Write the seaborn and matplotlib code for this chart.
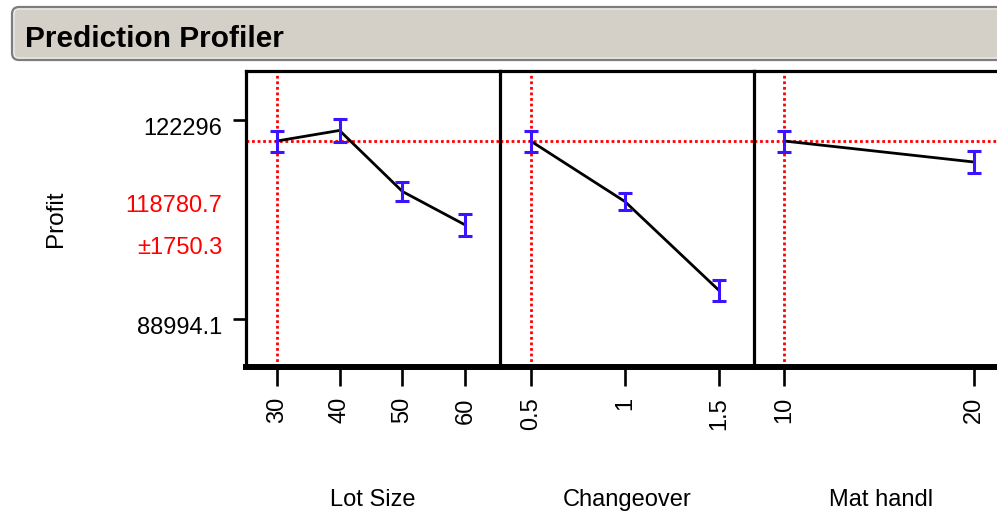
import matplotlib
matplotlib.use("Agg")
import matplotlib.pyplot as plt
import numpy as np
import pandas as pd
import seaborn as sns
from matplotlib import font_manager
from matplotlib.patches import FancyBboxPatch
from matplotlib.transforms import ScaledTranslation

# ---------------- data ----------------
factor_names = ["Lot Size", "Changeover", "Mat handl"]
lot_size_levels = [30, 40, 50, 60]
lot_size_profit = [118780.7, 120550, 110350, 104750]
lot_size_err = [1750.3, 1950, 1590, 1790]
changeover_levels = [0.5, 1, 1.5]
changeover_profit = [118780.7, 108660, 93770]
changeover_err = [1750.3, 1370, 1790]
mat_handl_levels = [10, 20]
mat_handl_profit = [118780.7, 115280]
mat_handl_err = [1750.3, 1805]
current_settings = [30, 0.5, 10]
predicted_profit = 118780.7
predicted_ci = 1750.3
y_ticks = [88994.1, 122296]
y_tick_labels = ["88994.1", "122296"]
x_tick_labels = [["30", "40", "50", "60"], ["0.5", "1", "1.5"], ["10", "20"]]
title_text = "Prediction Profiler"
response_name = "Profit"

levels = [lot_size_levels, changeover_levels, mat_handl_levels]
profits = [lot_size_profit, changeover_profit, mat_handl_profit]
errs = [lot_size_err, changeover_err, mat_handl_err]

frames = []
for name, lv, pr, er in zip(factor_names, levels, profits, errs):
    frames.append(pd.DataFrame({"factor": name, "level": lv, "profit": pr, "err": er}))
df = pd.concat(frames, ignore_index=True)

# ---------------- style ----------------
sns.set_style("ticks")
plt.rcParams["font.family"] = ["Liberation Sans", "DejaVu Sans"]
for k in ["text.color", "axes.labelcolor", "xtick.color", "ytick.color",
          "axes.edgecolor"]:
    plt.rcParams[k] = "black"

installed = {f.name for f in font_manager.fontManager.ttflist}
if "Liberation Sans Narrow" in installed:
    body_family = ["Liberation Sans Narrow", "Liberation Sans", "DejaVu Sans"]
    body_size = 20.5
else:
    body_family = ["Liberation Sans", "DejaVu Sans"]
    body_size = 17

W, H = 997, 512
fig = plt.figure(figsize=(W / 100, H / 100), dpi=100)

def fx(px):
    return px / W

def fy(py):
    return (H - py) / H

# title bar
bar = FancyBboxPatch((0.12, (H - 60) / 100), 10.0, 0.53,
                     boxstyle="round,pad=0,rounding_size=0.07",
                     transform=fig.dpi_scale_trans, facecolor="#d4d0c8",
                     edgecolor="#7d7d7d", linewidth=1.6, zorder=0)
fig.add_artist(bar)
inner = FancyBboxPatch((0.14, (H - 58) / 100), 9.96, 0.49,
                       boxstyle="round,pad=0,rounding_size=0.05",
                       transform=fig.dpi_scale_trans, facecolor="none",
                       edgecolor="#f2f2f2", linewidth=0.8, zorder=0)
fig.add_artist(inner)
fig.text(fx(25), fy(46.7), title_text, fontsize=21.5, fontweight="bold",
         ha="left", va="baseline", color="black",
         family=["Liberation Sans", "DejaVu Sans"])

# panel geometry (pixels)
top_px, bottom_px = 70.7, 367.0
panel_px = [(246.0, 499.5), (499.5, 754.0), (754.0, 1008.0)]
xlims = [(25.12, 65.44), (0.3346, 1.684), (8.40, 21.81)]
ylim = (81020, 130535)

ax_h = (bottom_px - top_px) / H
for i, (name, (l, r)) in enumerate(zip(factor_names, panel_px)):
    ax = fig.add_axes([fx(l), fy(bottom_px), (r - l) / W, ax_h])
    sub = df[df["factor"] == name]
    # reference lines
    ax.axvline(current_settings[i], color="red", linestyle=(0, (1, 1)), lw=2.0, zorder=1)
    ax.axhline(predicted_profit, color="red", linestyle=(0, (1, 1)), lw=2.0, zorder=1)
    sns.lineplot(data=sub, x="level", y="profit", color="black", lw=2.0,
                 errorbar=None, legend=False, ax=ax, zorder=3)
    ax.errorbar(sub["level"], sub["profit"], yerr=sub["err"], fmt="none",
                ecolor="#3a14ff", elinewidth=2.2, capsize=4.8, capthick=2.2, zorder=4)
    ax.set_xlim(*xlims[i])
    ax.set_ylim(*ylim)
    ax.set_xticks(levels[i])
    ax.set_xticklabels(x_tick_labels[i], family=body_family)
    ax.tick_params(axis="x", direction="out", length=13.7, width=1.9, pad=8,
                   labelsize=body_size, labelrotation=90, color="black",
                   labelcolor="black", bottom=True)
    ax.set_ylabel("")
    ax.set_xlabel(name, fontsize=body_size, family=body_family, color="black")
    ax.xaxis.label.set_va("baseline")
    ax.xaxis.set_label_coords(0.5, -(506 - bottom_px) / (bottom_px - top_px))
    for s in ["top", "left", "right"]:
        ax.spines[s].set_linewidth(2.3)
        ax.spines[s].set_color("black")
    ax.spines["bottom"].set_linewidth(4.3)
    ax.spines["bottom"].set_color("black")
    ax.spines["right"].set_visible(False)
    ax.spines["top"].set_visible(True)
    ax.spines["left"].set_visible(True)
    if i == 0:
        ax.set_yticks(y_ticks)
        ax.set_yticklabels(y_tick_labels, family=body_family)
        ax.tick_params(axis="y", direction="out", length=9.4, width=1.9, pad=8,
                       labelsize=body_size, color="black", labelcolor="black",
                       left=True)
        off = ScaledTranslation(0, -0.06, fig.dpi_scale_trans)
        for lab in ax.get_yticklabels():
            lab.set_transform(lab.get_transform() + off)
    else:
        ax.set_yticks([])
        ax.tick_params(axis="y", left=False)

# response label and current prediction
fig.text(fx(56), fy(218.3), response_name, rotation=90, fontsize=body_size + 0.5,
         ha="center", va="center", color="black", family=body_family)
fig.text(fx(222), fy(205.5), f"{predicted_profit:.1f}", fontsize=body_size,
         ha="right", va="center", color="red", family=body_family)
fig.text(fx(222), fy(248.5), f"\u00b1{predicted_ci:.1f}", fontsize=body_size,
         ha="right", va="center", color="red", family=body_family)

fig.savefig("out.png", dpi=100)
